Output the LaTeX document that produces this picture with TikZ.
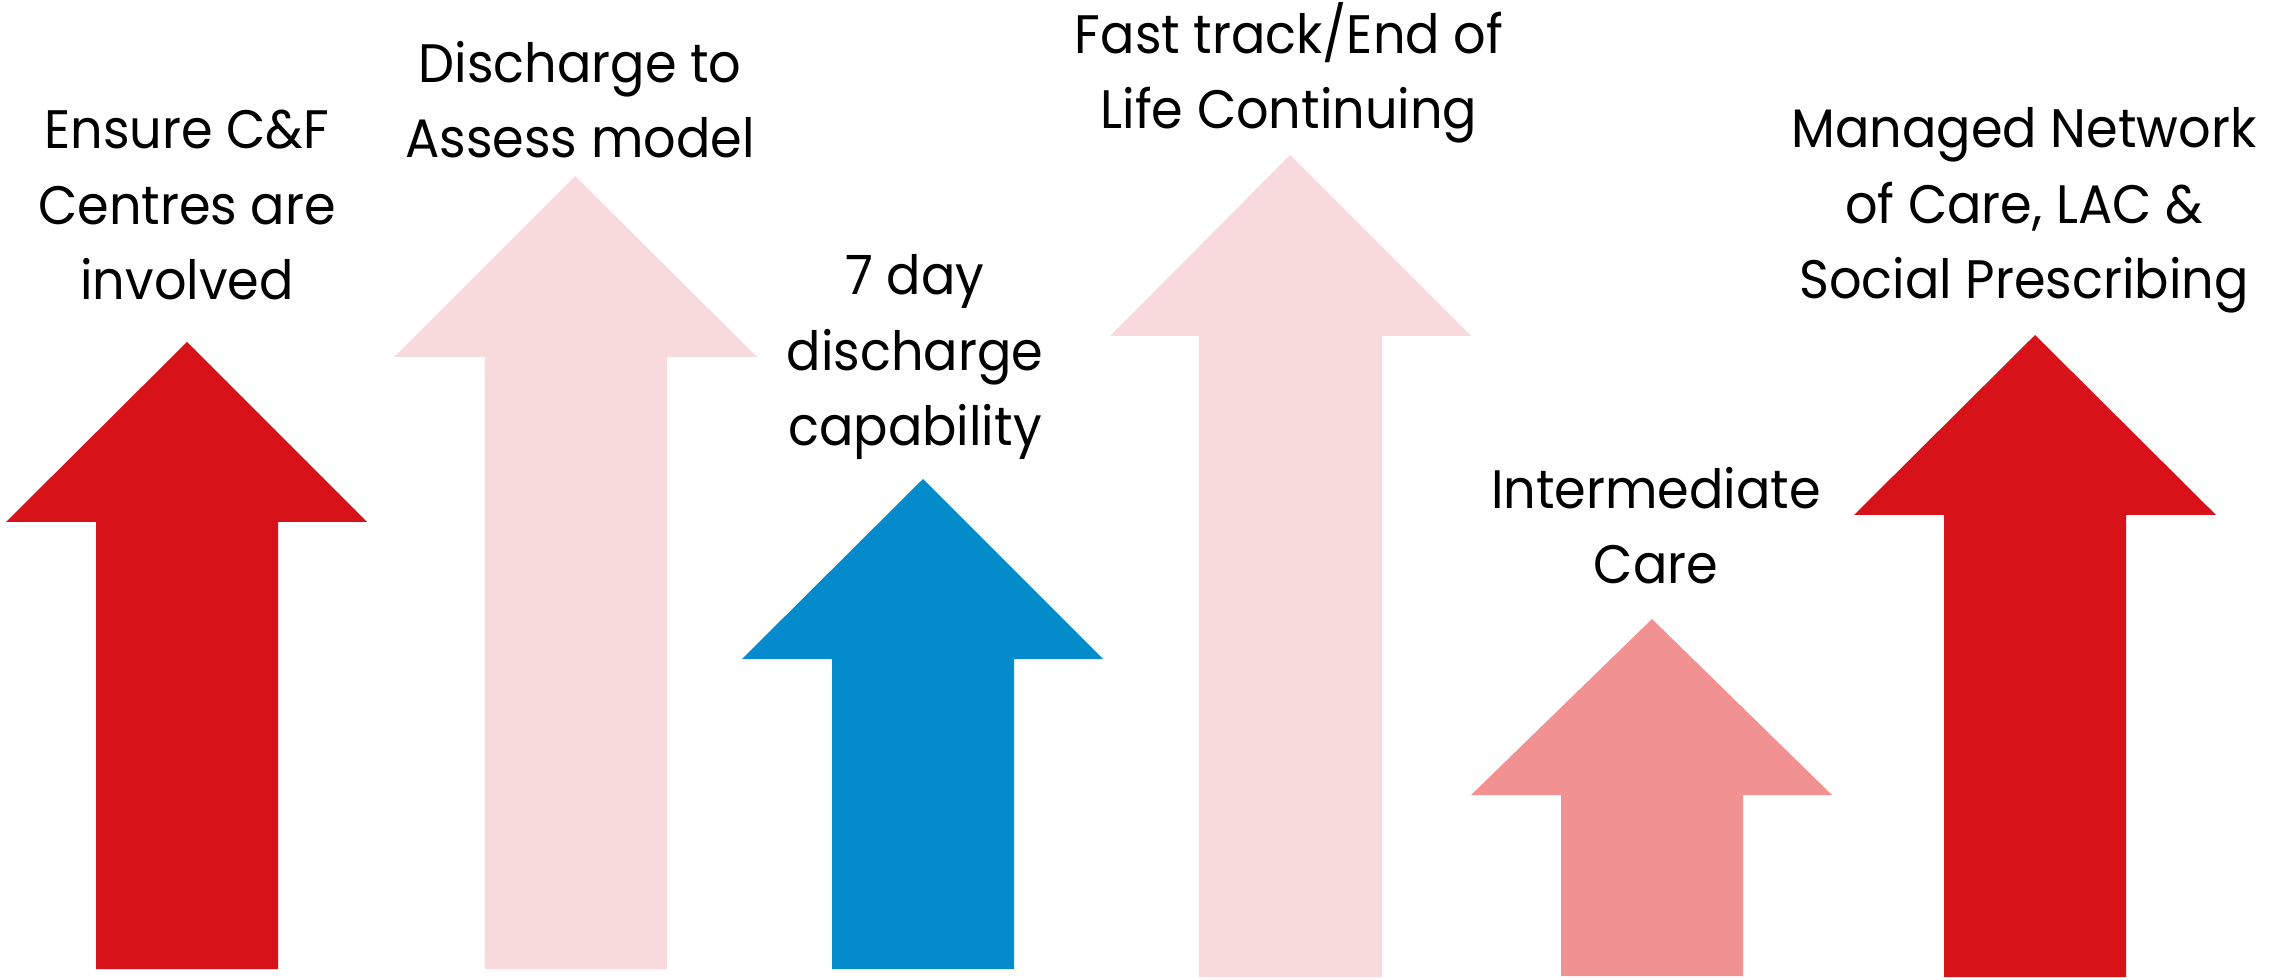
\documentclass[tikz,border=0pt]{standalone}
\usepackage{fontspec}
\setmainfont[FakeStretch=0.94]{Poppins}
\usetikzlibrary{positioning}
\definecolor{deepred}{RGB}{215,18,24}
\definecolor{palepink}{RGB}{249,218,220}
\definecolor{skyblue}{RGB}{3,139,204}
\definecolor{salmon}{RGB}{242,145,145}
\tikzset{
    goal/.style={
           align=center,
           anchor=base,
           inner sep=0pt,
           text=black,
           font=\fontsize{15.4}{21.6}\selectfont,
           },
}

\begin{document}
\begin{tikzpicture}[x=0.01cm,y=-0.01cm]
  \useasboundingbox (0,0) rectangle (2292,980);
  % arrows, left to right
  \fill[deepred] (96,969) -- (96,522) -- (6,522) -- (187,342)
    -- (367,522) -- (278,522) -- (278,969) -- cycle;
  \fill[palepink] (485,969) -- (485,357) -- (394,357) -- (575,176)
    -- (757,357) -- (667,357) -- (667,969) -- cycle;
  \fill[skyblue] (832,969) -- (832,659) -- (742,659) -- (923,479)
    -- (1103,659) -- (1014,659) -- (1014,969) -- cycle;
  \fill[palepink] (1199,977) -- (1199,336) -- (1110,336) -- (1290,155)
    -- (1471,336) -- (1382,336) -- (1382,977) -- cycle;
  \fill[salmon] (1561,976) -- (1561,795) -- (1471,795) -- (1652,619)
    -- (1832,795) -- (1743,795) -- (1743,976) -- cycle;
  \fill[deepred] (1944,977) -- (1944,515) -- (1854,515) -- (2035,335)
    -- (2216,515) -- (2126,515) -- (2126,977) -- cycle;
  % labels (anchored at the last baseline)
  \node[goal] (ensure) at (187,300) {Ensure C\&F\\Centres are\\involved};
  \node[goal] (assess) at (580,158) {Discharge to\\Assess model};
  \node[goal] (sevenday) at (915,446) {7 day\\discharge\\capability};
  \node[goal] (fasttrack) at (1289,129) {Fast track/End of\\Life Continuing};
  \node[goal] (intercare) at (1656,584) {Intermediate\\Care};
  \node[goal] (network) at (2024,299) {Managed Network\\of Care, LAC \&\\Social Prescribing};
\end{tikzpicture}
\end{document}
